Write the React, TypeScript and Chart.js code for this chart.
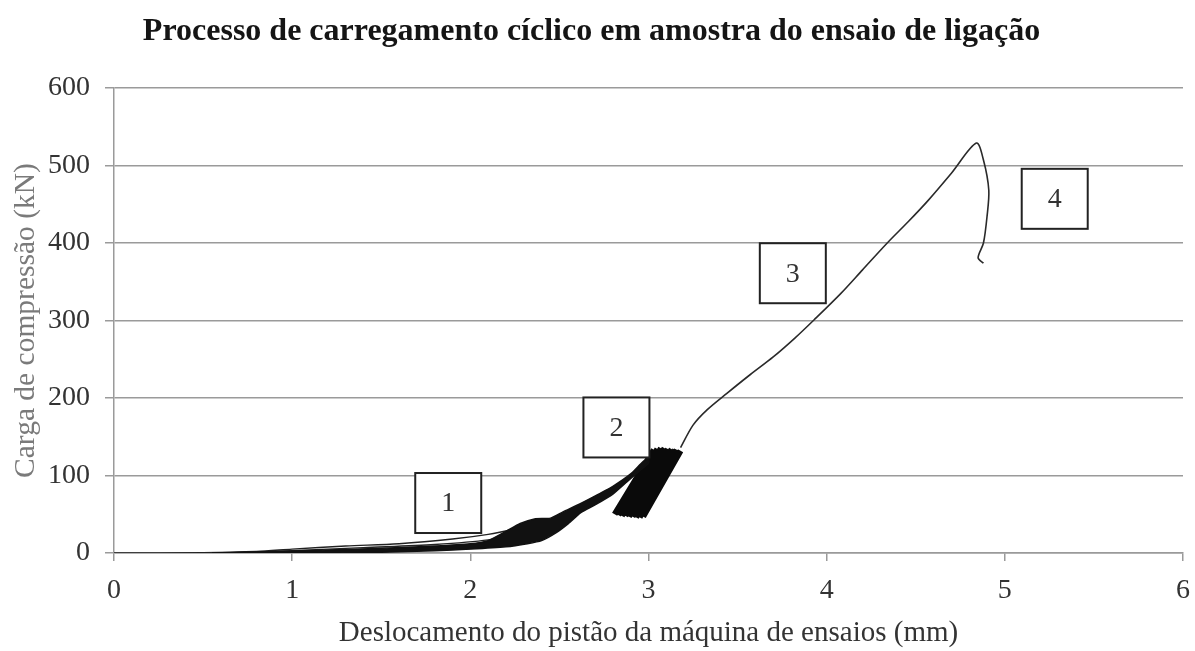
import React, { useEffect, useRef } from "react";
import { Chart, registerables } from "chart.js";

Chart.register(...registerables);

// ---------- text ----------
const TITLE = "Processo de carregamento cíclico em amostra do ensaio de ligação";
const X_TITLE = "Deslocamento do pistão da máquina de ensaios (mm)";
const Y_TITLE = "Carga de compressão (kN)";

// ---------- axes ----------
const X_MIN = 0;
const X_MAX = 6;
const X_STEP = 1;
const Y_MIN = 0;
const Y_MAX = 600;
const Y_STEP = 100;

// ---------- phase 1 + phase 2 cyclic band (outline of dense cycles) ----------
const bandX = [
  0.55, 0.9, 1.2, 1.5, 1.8, 2.0, 2.1, 2.2, 2.28, 2.36, 2.45, 2.52, 2.62, 2.72, 2.8, 2.9, 2.97, 3.0,
  3.0, 2.95, 2.88, 2.8, 2.7, 2.62, 2.55, 2.48, 2.4, 2.32, 2.2, 2.0, 1.8, 1.5, 1.2, 0.8, 0.55,
];
const bandY = [
  0, 2, 4, 6, 9, 12, 16, 28, 38, 44, 45, 53, 64, 76, 86, 102, 118, 122,
  116, 106, 92, 76, 62, 52, 38, 26, 16, 12, 8, 5, 3, 1, 0, 0, 0,
];

// ---------- first loading curves (thin) ----------
const loadAX = [0.0, 0.5, 0.8, 1.0, 1.3, 1.6, 1.9, 2.1, 2.25, 2.35, 2.42];
const loadAY = [0, 0.5, 2, 5, 9, 12, 18, 24, 31, 37, 40];
const loadBX = [0.6, 1.0, 1.4, 1.8, 2.1, 2.3];
const loadBY = [0, 3, 7, 11, 17, 27];

// ---------- phase 2 dense cycles (zig-zag) ----------
const cycleX = [
  2.81, 3.03, 2.83, 3.05, 2.85, 3.07, 2.87, 3.09, 2.89, 3.11, 2.91, 3.13, 2.93, 3.15, 2.95, 3.16, 2.97, 3.18,
];
const cycleY = [
  50, 133, 49, 134, 48, 135, 48, 135, 47, 134, 47, 134, 46, 133, 46, 133, 47, 132,
];

// ---------- phase 3 (final loading) and phase 4 (post-peak) ----------
const finalX = [
  3.18, 3.25, 3.33, 3.44, 3.57, 3.7, 3.82, 3.93, 4.08, 4.2, 4.34, 4.46, 4.57, 4.7, 4.84,
  4.88, 4.91, 4.9, 4.88, 4.85, 4.88,
];
const finalY = [
  136, 165, 185, 206, 230, 253, 277, 301, 335, 365, 400, 428, 455, 490, 529,
  507, 468, 434, 400, 381, 374,
];

// ---------- phase labels ----------
const phaseLabels = ["1", "2", "3", "4"];
const phaseLabelX = [1.876, 2.82, 3.81, 5.28];
const phaseLabelY = [64.5, 162, 361, 457];

const pts = (xs: number[], ys: number[]) => xs.map((x, i) => ({ x, y: ys[i] }));

const SERIF = "'Liberation Serif', 'Times New Roman', serif";

const phaseBoxes = {
  id: "phaseBoxes",
  afterDatasetsDraw(chart: any) {
    const { ctx, scales } = chart;
    const w = 66;
    const h = 60;
    ctx.save();
    phaseLabels.forEach((lab, i) => {
      const cx = scales.x.getPixelForValue(phaseLabelX[i]);
      const cy = scales.y.getPixelForValue(phaseLabelY[i]);
      ctx.fillStyle = "#ffffff";
      ctx.fillRect(cx - w / 2, cy - h / 2, w, h);
      ctx.strokeStyle = "#222222";
      ctx.lineWidth = 2;
      ctx.strokeRect(cx - w / 2, cy - h / 2, w, h);
      ctx.fillStyle = "#333333";
      ctx.font = `28px ${SERIF}`;
      ctx.textAlign = "center";
      ctx.textBaseline = "middle";
      ctx.fillText(lab, cx, cy + 1);
    });
    ctx.restore();
  },
};

export default function App() {
  const ref = useRef<HTMLCanvasElement | null>(null);

  useEffect(() => {
    if (!ref.current) return;
    const gridColor = "#9a9a9a";
    const chart = new Chart(ref.current, {
      type: "scatter",
      data: {
        datasets: [
          {
            label: "Ciclos (envoltória)",
            data: pts(bandX, bandY),
            showLine: true,
            fill: "shape",
            backgroundColor: "#111111",
            borderColor: "#111111",
            borderWidth: 1.5,
            pointRadius: 0,
            tension: 0.2,
          },
          {
            label: "Carregamento inicial A",
            data: pts(loadAX, loadAY),
            showLine: true,
            borderColor: "#222222",
            borderWidth: 1.4,
            pointRadius: 0,
            tension: 0.3,
          },
          {
            label: "Carregamento inicial B",
            data: pts(loadBX, loadBY),
            showLine: true,
            borderColor: "#222222",
            borderWidth: 1.4,
            pointRadius: 0,
            tension: 0.3,
          },
          {
            label: "Ciclos fase 2",
            data: pts(cycleX, cycleY),
            showLine: true,
            borderColor: "#0a0a0a",
            borderWidth: 6,
            pointRadius: 0,
            tension: 0,
          },
          {
            label: "Carregamento final",
            data: pts(finalX, finalY),
            showLine: true,
            borderColor: "#2a2a2a",
            borderWidth: 1.6,
            pointRadius: 0,
            tension: 0.3,
          },
        ],
      },
      options: {
        animation: false,
        responsive: false,
        layout: { padding: { left: 0, right: 12, top: 0, bottom: 0 } },
        plugins: {
          legend: { display: false },
          tooltip: { enabled: false },
          title: {
            display: true,
            text: TITLE,
            color: "#151515",
            font: { family: SERIF, size: 32, weight: "bold" },
            padding: { top: 13, bottom: 36.6 },
          },
        },
        scales: {
          x: {
            type: "linear",
            min: X_MIN,
            max: X_MAX,
            afterFit: (s: any) => {
              s.height = 98;
              s.paddingLeft = 0;
              s.paddingRight = 0;
            },
            ticks: {
              stepSize: X_STEP,
              color: "#333333",
              font: { family: SERIF, size: 28 },
              padding: 13,
              maxRotation: 0,
            },
            grid: {
              drawOnChartArea: false,
              drawTicks: true,
              tickLength: 8,
              color: gridColor,
              lineWidth: 1.5,
            },
            border: { color: gridColor, width: 1.5 },
            title: {
              display: true,
              text: X_TITLE,
              color: "#333333",
              font: { family: SERIF, size: 29 },
              padding: { top: 2, bottom: 0 },
            },
          },
          y: {
            min: Y_MIN,
            max: Y_MAX,
            afterFit: (s: any) => {
              s.width = 114;
              s.paddingTop = 0;
              s.paddingBottom = 0;
            },
            ticks: {
              stepSize: Y_STEP,
              color: "#333333",
              font: { family: SERIF, size: 28 },
              padding: 15,
            },
            grid: {
              color: gridColor,
              lineWidth: 1.5,
              tickLength: 9,
            },
            border: { color: gridColor, width: 1.5 },
            title: {
              display: true,
              text: Y_TITLE,
              color: "#7a7a7a",
              font: { family: SERIF, size: 29.5 },
              padding: { top: 9, bottom: 0 },
            },
          },
        },
      },
      plugins: [phaseBoxes],
    });
    return () => chart.destroy();
  }, []);

  return (
    <div style={{ position: "fixed", left: 0, top: 0, width: 1195, height: 651, background: "#fff" }}>
      <canvas ref={ref} width={1195} height={651} />
    </div>
  );
}
